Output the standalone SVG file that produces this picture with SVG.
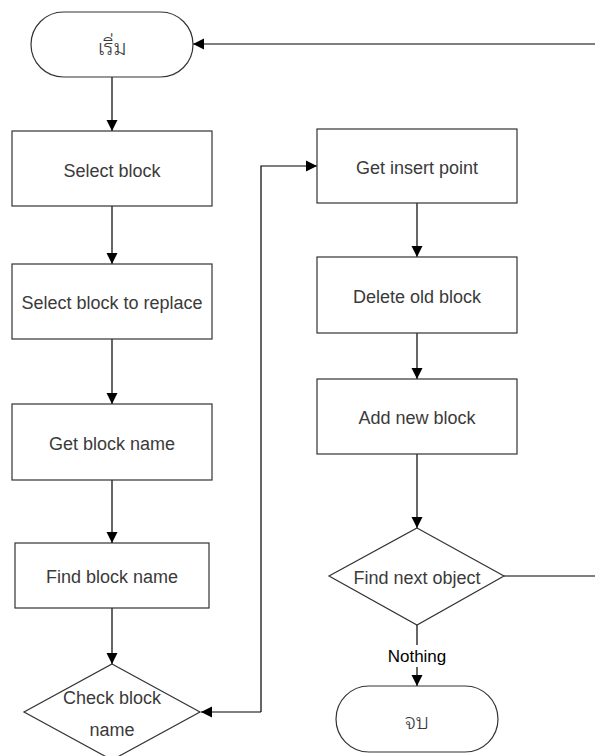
<svg xmlns="http://www.w3.org/2000/svg" width="595" height="756" viewBox="0 0 595 756">
  <defs>
    <marker id="arrow" markerUnits="userSpaceOnUse" markerWidth="12" markerHeight="12" refX="11" refY="6" orient="auto">
      <path d="M0,0.5 L11,6 L0,11.5 z" fill="#000"/>
    </marker>
    <style>
      .shape { fill: #fff; stroke: #333; stroke-width: 1.2; }
      .lbl { font-family: "Liberation Sans", Arial, sans-serif; font-size: 18px; fill: #3a3a3a; text-anchor: middle; dominant-baseline: central; }
      .thai { font-family: "Noto Sans Thai Looped", "Noto Serif Thai", "Noto Sans Thai", "DejaVu Sans", sans-serif; font-size: 21px; font-weight: 300; fill: #3a3a3a; text-anchor: middle; dominant-baseline: central; }
      .edge { fill: none; stroke: #000; stroke-width: 1.2; }
      .edgelbl { font-family: "Liberation Sans", Arial, sans-serif; font-size: 17px; fill: #000; text-anchor: middle; dominant-baseline: central; }
    </style>
  </defs>
  <rect width="595" height="756" fill="#fff"/>

  <!-- connectors -->
  <g id="connectors">
    <path class="edge" d="M112,77 V131" marker-end="url(#arrow)"/>
    <path class="edge" d="M112,206 V264" marker-end="url(#arrow)"/>
    <path class="edge" d="M112,339 V404" marker-end="url(#arrow)"/>
    <path class="edge" d="M112,480 V543" marker-end="url(#arrow)"/>
    <path class="edge" d="M112,608 V664" marker-end="url(#arrow)"/>
    <path class="edge" d="M261,712 H201" marker-end="url(#arrow)"/>
    <path class="edge" d="M261,712 V166 H317" marker-end="url(#arrow)"/>
    <path class="edge" d="M417,203 V257" marker-end="url(#arrow)"/>
    <path class="edge" d="M417,333 V379" marker-end="url(#arrow)"/>
    <path class="edge" d="M417,454 V528" marker-end="url(#arrow)"/>
    <path class="edge" d="M417,625 V686" marker-end="url(#arrow)"/>
    <path class="edge" d="M504,576 H595"/>
    <path class="edge" d="M595,44 H193" marker-end="url(#arrow)"/>
    <rect x="385" y="645" width="64" height="22" fill="#fff"/>
    <text class="edgelbl" x="417" y="656">Nothing</text>
  </g>

  <!-- left column -->
  <g id="start">
    <rect class="shape" x="31" y="12" width="162" height="65" rx="32.5" ry="32.5"/>
    <text class="thai" x="112" y="45">เริ่ม</text>
  </g>
  <g id="select-block">
    <rect class="shape" x="12" y="131" width="200" height="75"/>
    <text class="lbl" x="112" y="171">Select block</text>
  </g>
  <g id="select-block-to-replace">
    <rect class="shape" x="12" y="264" width="200" height="75"/>
    <text class="lbl" x="112" y="303">Select block to replace</text>
  </g>
  <g id="get-block-name">
    <rect class="shape" x="12" y="404" width="200" height="76"/>
    <text class="lbl" x="112" y="444">Get block name</text>
  </g>
  <g id="find-block-name">
    <rect class="shape" x="15" y="543" width="194" height="65"/>
    <text class="lbl" x="112" y="577">Find block name</text>
  </g>
  <g id="check-block-name">
    <polygon class="shape" points="112,664 200,712 112,760 24,712"/>
    <text class="lbl" x="112" y="698">Check block</text>
    <text class="lbl" x="112" y="730">name</text>
  </g>

  <!-- right column -->
  <g id="get-insert-point">
    <rect class="shape" x="317" y="129" width="200" height="74"/>
    <text class="lbl" x="417" y="168">Get insert point</text>
  </g>
  <g id="delete-old-block">
    <rect class="shape" x="317" y="257" width="200" height="76"/>
    <text class="lbl" x="417" y="297">Delete old block</text>
  </g>
  <g id="add-new-block">
    <rect class="shape" x="317" y="379" width="200" height="75"/>
    <text class="lbl" x="417" y="418">Add new block</text>
  </g>
  <g id="find-next-object">
    <polygon class="shape" points="417,528 504,576 417,625 329,576"/>
    <text class="lbl" x="417" y="578">Find next object</text>
  </g>
  <g id="end">
    <rect class="shape" x="336" y="686" width="162" height="66" rx="33" ry="33"/>
    <text class="thai" x="417" y="719">จบ</text>
  </g>
</svg>
